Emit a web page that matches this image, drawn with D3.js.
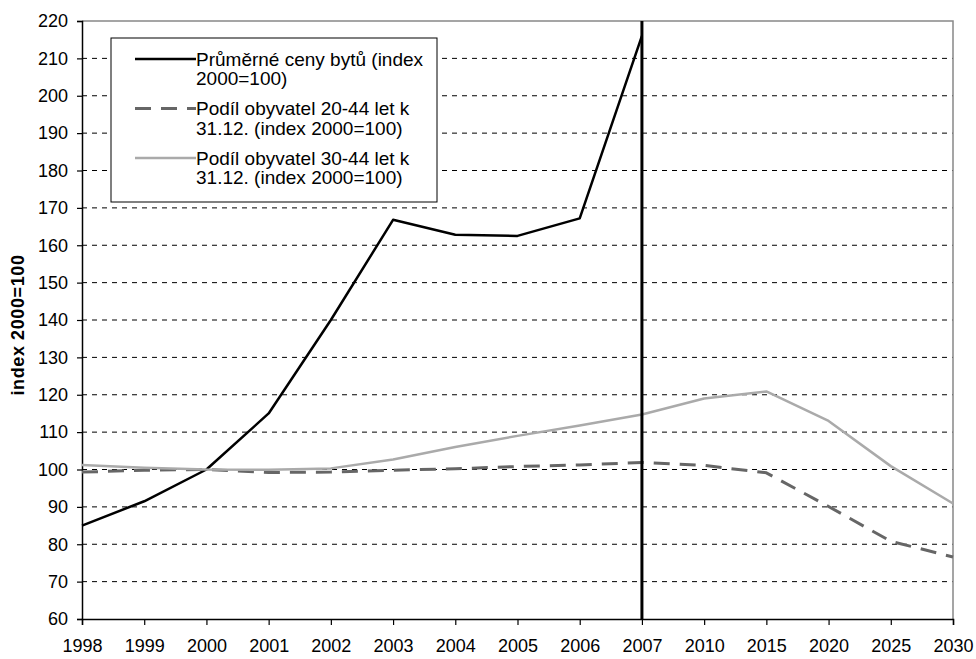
<!DOCTYPE html>
<html>
<head>
<meta charset="utf-8">
<script src="https://cdn.jsdelivr.net/npm/d3@7"></script>
<style>
  body { margin: 0; background: #fff; }
  svg { display: block; font-family: "Liberation Sans", Arial, sans-serif; }
</style>
</head>
<body>
<svg id="chart" width="976" height="659"></svg>
<script>
// Years on the category axis (equal spacing, projection years after 2007)
const years = ["1998","1999","2000","2001","2002","2003","2004","2005","2006","2007","2010","2015","2020","2025","2030"];

// Average flat prices, index 2000=100 (observed up to 2007)
const flatPrices = [85, 91.5, 100, 115, 140, 166.8, 162.8, 162.5, 167.2, 216, null, null, null, null, null];
// Share of population aged 20-44 at 31.12., index 2000=100
const pop2044 = [99.3, 99.8, 100, 99.2, 99.3, 99.8, 100.2, 100.8, 101.2, 101.9, 101.1, 99.1, 90.1, 80.8, 76.6];
// Share of population aged 30-44 at 31.12., index 2000=100
const pop3044 = [101.2, 100.5, 100, 99.9, 100.3, 102.7, 106, 109, 111.8, 114.7, 119, 120.9, 113, 100.9, 90.9];

const yTicks = d3.range(60, 221, 10);
const markerYear = "2007";

const seriesNames = [
  ["Průměrné ceny bytů (index", "2000=100)"],
  ["Podíl obyvatel 20-44 let k", "31.12. (index 2000=100)"],
  ["Podíl obyvatel 30-44 let k", "31.12. (index 2000=100)"]
];

const series = [
  { values: flatPrices, color: "#000000", width: 2.5, dash: null },
  { values: pop2044, color: "#666666", width: 3, dash: "16,10" },
  { values: pop3044, color: "#aaaaaa", width: 2.5, dash: null }
];

const svg = d3.select("#chart");
const m = { left: 82, right: 953, top: 21, bottom: 619 };

const x = d3.scalePoint().domain(years).range([m.left, m.right]);
const y = d3.scaleLinear().domain([60, 220]).range([m.bottom, m.top]);

// Horizontal dashed gridlines
svg.append("g")
  .selectAll("line")
  .data(yTicks.filter(v => v > 60 && v < 220))
  .join("line")
  .attr("x1", m.left).attr("x2", m.right)
  .attr("y1", d => y(d)).attr("y2", d => y(d))
  .attr("stroke", "#000").attr("stroke-width", 1)
  .attr("stroke-dasharray", "5,5");

// Plot area frame (top and right edges)
svg.append("path")
  .attr("d", `M${m.left},${m.top}H${m.right}V${m.bottom}`)
  .attr("fill", "none").attr("stroke", "#888").attr("stroke-width", 1.5);

// Axes
const yAxis = svg.append("g")
  .attr("transform", `translate(${m.left},0)`)
  .call(d3.axisLeft(y).tickValues(yTicks).tickSize(5).tickPadding(9));
const xAxis = svg.append("g")
  .attr("transform", `translate(0,${m.bottom})`)
  .call(d3.axisBottom(x).tickSize(6).tickPadding(10));

[yAxis, xAxis].forEach(a => {
  a.select(".domain").attr("stroke", "#000").attr("stroke-width", 1.5);
  a.selectAll(".tick line").attr("stroke", "#000").attr("stroke-width", 1.2);
  a.selectAll(".tick text").attr("fill", "#000").style("font-size", "18px")
    .style("font-family", "'Liberation Sans', Arial, sans-serif");
});
xAxis.selectAll(".tick text").attr("dy", "0.95em");

// Y axis title
svg.append("text")
  .attr("transform", `translate(24,${(m.top + m.bottom) / 2 + 5}) rotate(-90)`)
  .attr("text-anchor", "middle")
  .style("font-size", "18px").style("font-weight", "bold")
  .style("letter-spacing", "0.6px")
  .text("index 2000=100");

// Series lines
const line = d3.line()
  .defined(d => d != null)
  .x((d, i) => x(years[i]))
  .y(d => y(d));

series.forEach(s => {
  svg.append("path")
    .datum(s.values)
    .attr("d", line)
    .attr("fill", "none")
    .attr("stroke", s.color)
    .attr("stroke-width", s.width)
    .attr("stroke-dasharray", s.dash)
    .attr("stroke-linejoin", "round");
});

// Vertical marker at the last observed year
svg.append("line")
  .attr("x1", x(markerYear)).attr("x2", x(markerYear))
  .attr("y1", m.top).attr("y2", m.bottom)
  .attr("stroke", "#000").attr("stroke-width", 3);

// Legend
const lg = svg.append("g").attr("transform", "translate(111,38)");
lg.append("rect")
  .attr("width", 326).attr("height", 164)
  .attr("fill", "#fff").attr("stroke", "#000").attr("stroke-width", 1);

seriesNames.forEach((lines, i) => {
  const cy = 21 + i * 49.5;
  const s = series[i];
  lg.append("line")
    .attr("x1", 24).attr("x2", 85)
    .attr("y1", cy).attr("y2", cy)
    .attr("stroke", s.color).attr("stroke-width", s.width)
    .attr("stroke-dasharray", s.dash ? "16,10" : null);
  lines.forEach((t, j) => {
    lg.append("text")
      .attr("x", 85).attr("y", cy + j * 19.5)
      .attr("dy", "0.35em")
      .style("font-size", "19px")
      .text(t);
  });
});
</script>
</body>
</html>
